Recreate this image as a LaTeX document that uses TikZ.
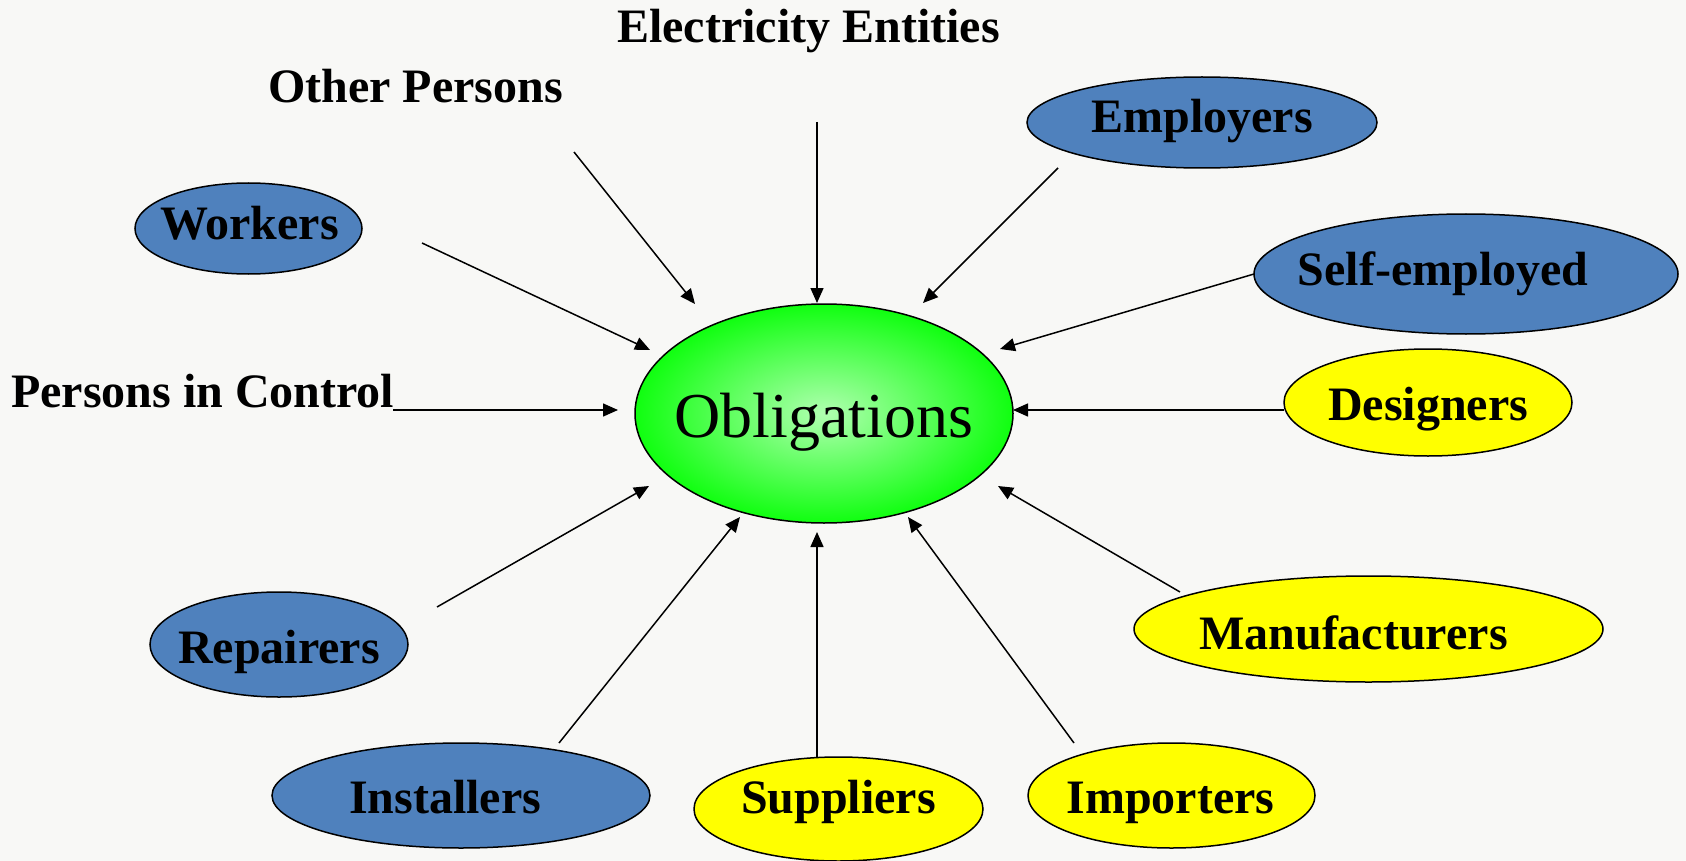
\documentclass[tikz,border=0pt]{standalone}
\usepackage{fontspec}
\setmainfont{Liberation Serif}
\usetikzlibrary{shapes.geometric,arrows.meta}
\definecolor{bgc}{HTML}{F8F8F6}
\definecolor{bluef}{HTML}{4F81BD}
\definecolor{yelf}{HTML}{FFFF00}
\definecolor{grin}{HTML}{B0FFB0}
\definecolor{grout}{HTML}{10FF10}
% zero-width text box, shifted horizontally by #1 pt
\newcommand\shtxt[2]{\makebox[0pt]{\kern#1pt\kern#1pt #2}}
\tikzset{
  bub/.style n args={3}{ellipse, draw=black, line width=1.5pt, inner sep=0pt,
    minimum width=#1, minimum height=#2, text height=#3, text depth=0pt,
    font=\fontsize{48}{56}\selectfont\bfseries},
  bluebub/.style={fill=bluef},
  yelbub/.style={fill=yelf},
  freelbl/.style={inner sep=0pt, font=\fontsize{48}{56}\selectfont\bfseries},
  arr/.style={line width=1.5pt, -{Triangle[length=15pt,width=13pt]}}
}
\begin{document}
\begin{tikzpicture}[x=1pt,y=-1pt]
\useasboundingbox (0,0) rectangle (1686,861);
\fill[bgc] (0,0) rectangle (1686,861);

% centre
\node[ellipse, draw=black, line width=1.5pt, inner sep=0pt,
  minimum width=378, minimum height=219, text height=47, text depth=0pt,
  inner color=grin, outer color=grout,
  font=\fontsize{64}{72}\selectfont] (obl) at (824,413.5) {\shtxt{0}{Obligations}};

% bubbles
\node[bub={227}{91}{21}, bluebub] (workers) at (248.5,228.5) {\shtxt{1}{Workers}};
\node[bub={350}{91}{21}, bluebub] (employers) at (1202,122.5) {\shtxt{0}{Employers}};
\node[bub={424}{120}{22}, bluebub] (selfemp) at (1466,274) {\shtxt{-23}{Self-employed}};
\node[bub={288}{107}{35}, yelbub] (designers) at (1428,402.5) {\shtxt{0}{Designers}};
\node[bub={469}{106}{40}, yelbub] (manuf) at (1368.5,629) {\shtxt{-15}{Manufacturers}};
\node[bub={287}{105}{35}, yelbub] (importers) at (1171.5,795.5) {\shtxt{-1}{Importers}};
\node[bub={289}{104}{8}, yelbub] (suppliers) at (838.5,809) {\shtxt{0}{Suppliers}};
\node[bub={378}{105}{35}, bluebub] (installers) at (461,795.5) {\shtxt{-16}{Installers}};
\node[bub={258}{105}{37}, bluebub] (repairers) at (279,644.5) {\shtxt{0}{Repairers}};

% free labels
\node[freelbl, anchor=base] (elec) at (808.5,43) {Electricity Entities};
\node[freelbl, anchor=base] (other) at (415.5,103) {Other Persons};
\node[freelbl, anchor=base west] (pic) at (11,407) {Persons in Control};

% connector end points
\coordinate (sWork) at (422,243);   \coordinate (tWork) at (650,350);
\coordinate (sOther) at (574,152);  \coordinate (tOther) at (695,304);
\coordinate (sElec) at (817,122);   \coordinate (tElec) at (817,303);
\coordinate (sEmp) at (1058,168);   \coordinate (tEmp) at (923,303);
\coordinate (sSelf) at (1254,274);  \coordinate (tSelf) at (1000,349);
\coordinate (sDes) at (1284,410);   \coordinate (tDes) at (1013,410);
\coordinate (sMan) at (1180,592);   \coordinate (tMan) at (998,486);
\coordinate (sImp) at (1074,743);   \coordinate (tImp) at (908,517);
\coordinate (sSup) at (817,758);    \coordinate (tSup) at (817,532);
\coordinate (sIns) at (559,743);    \coordinate (tIns) at (740,517);
\coordinate (sRep) at (437,607);    \coordinate (tRep) at (649,486);
\coordinate (sPic) at (393,410);    \coordinate (tPic) at (618,410);

\draw[arr] (sWork) -- (tWork);
\draw[arr] (sOther) -- (tOther);
\draw[arr] (sElec) -- (tElec);
\draw[arr] (sEmp) -- (tEmp);
\draw[arr] (sSelf) -- (tSelf);
\draw[arr] (sDes) -- (tDes);
\draw[arr] (sMan) -- (tMan);
\draw[arr] (sImp) -- (tImp);
\draw[arr] (sSup) -- (tSup);
\draw[arr] (sIns) -- (tIns);
\draw[arr] (sRep) -- (tRep);
\draw[arr] (sPic) -- (tPic);
\end{tikzpicture}
\end{document}
